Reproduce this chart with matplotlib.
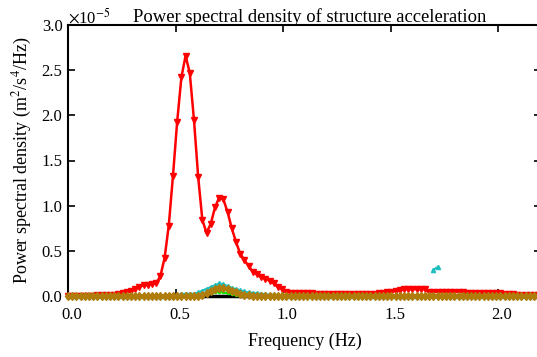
import numpy as np
import matplotlib
matplotlib.use('Agg')
import matplotlib.pyplot as plt
from matplotlib.transforms import ScaledTranslation

# PSD of structure acceleration, values in units of 1e-5 m^2/s^4/Hz
df = 0.01953
n_pts = 113
freq = np.arange(n_pts) * df

psd_red = ([0.005] * 7 + [0.01] * 5 +
           [0.02, 0.03, 0.04, 0.05, 0.08, 0.10, 0.12, 0.12, 0.13, 0.14,
            0.22, 0.42, 0.78, 1.33, 1.93, 2.42, 2.66, 2.47, 1.95, 1.32,
            0.84, 0.70, 0.80, 0.98, 1.09, 1.07, 0.93, 0.75, 0.60, 0.47,
            0.40, 0.33, 0.27, 0.24, 0.21, 0.19, 0.17, 0.14, 0.10, 0.075,
            0.045] +
           [0.037] * 6 + [0.02] * 15 +
           [0.03, 0.035, 0.04, 0.045, 0.055, 0.065] +
           [0.075] * 6 + [0.048] * 9 + [0.037] * 9 +
           [0.02] * 3 + [0.008] * 6)

psd_cyan = ([0.0] * 27 + [0.025] * 4 +
            [0.04, 0.06, 0.08, 0.10, 0.12, 0.14, 0.13, 0.11, 0.09, 0.075,
             0.065, 0.05, 0.04, 0.035, 0.03, 0.025, 0.02, 0.015, 0.015,
             0.01] +
            [0.0] * 35 + [np.nan, 0.29, 0.32, np.nan] + [0.0] * 23)

psd_orange = ([0.0] * 31 +
              [0.005, 0.015, 0.03, 0.05, 0.075, 0.09, 0.09, 0.08, 0.06,
               0.04, 0.025, 0.015, 0.008] +
              [0.0] * 69)

psd_green = ([0.0] * 32 +
             [0.01, 0.02, 0.03, 0.04, 0.045, 0.04, 0.03, 0.02, 0.01] +
             [0.0] * 72)

psd_black = [0.0] * n_pts

plt.rcParams['font.family'] = ['Liberation Serif', 'DejaVu Serif']
plt.rcParams['mathtext.fontset'] = 'stix'
plt.rcParams['font.size'] = 12

fig = plt.figure(figsize=(5.37, 3.57), dpi=100)
ax = fig.add_axes([68 / 537, 61 / 357, 473 / 537, 271 / 357])

ax.plot(freq, psd_black, color='black', lw=2.5, clip_on=False, zorder=2)
ax.plot(freq, psd_red, color='red', lw=1.8, marker='v', ms=4.5,
        clip_on=False, zorder=3)
ax.plot(freq, psd_green, color='#00ee00', lw=1.5, marker='.', ms=3,
        clip_on=False, zorder=4)
ax.plot(freq, psd_cyan, color='#1fbfbf', lw=1.5, marker='^', ms=3,
        clip_on=False, zorder=5)
ax.plot(freq, psd_orange, color='#b07d0c', lw=2.6, marker='d', ms=4.5,
        clip_on=False, zorder=6)

ax.set_xlim(0, 2.2)
ax.set_ylim(0, 3.0)
ax.set_xticks([0.0, 0.5, 1.0, 1.5, 2.0])
ax.set_yticks([0.0, 0.5, 1.0, 1.5, 2.0, 2.5, 3.0])
ax.set_xticklabels(['0.0', '0.5', '1.0', '1.5', '2.0'])
ax.set_yticklabels(['0.0', '0.5', '1.0', '1.5', '2.0', '2.5', '3.0'])
ax.tick_params(direction='in', top=True, right=True, length=5, width=1.2)
ax.tick_params(axis='x', pad=8)
ax.tick_params(axis='y', pad=4)
shift = ScaledTranslation(4 / 100, 0, fig.dpi_scale_trans)
for lab in ax.get_xticklabels():
    lab.set_transform(lab.get_transform() + shift)
for sp in ax.spines.values():
    sp.set_linewidth(1.5)

ax.set_xlabel('Frequency (Hz)', labelpad=7, fontsize=13)
ax.set_ylabel('Power spectral density (m$^2$/s$^4$/Hz)', labelpad=5,
              fontsize=13)
ax.set_title('Power spectral density of structure acceleration', pad=2,
             x=0.51, fontsize=13.4)
ax.text(0.0, 0.99, r'$\times$10$^{-5}$', transform=ax.transAxes,
        ha='left', va='bottom', fontsize=12)

fig.savefig('out.png', dpi=100)
